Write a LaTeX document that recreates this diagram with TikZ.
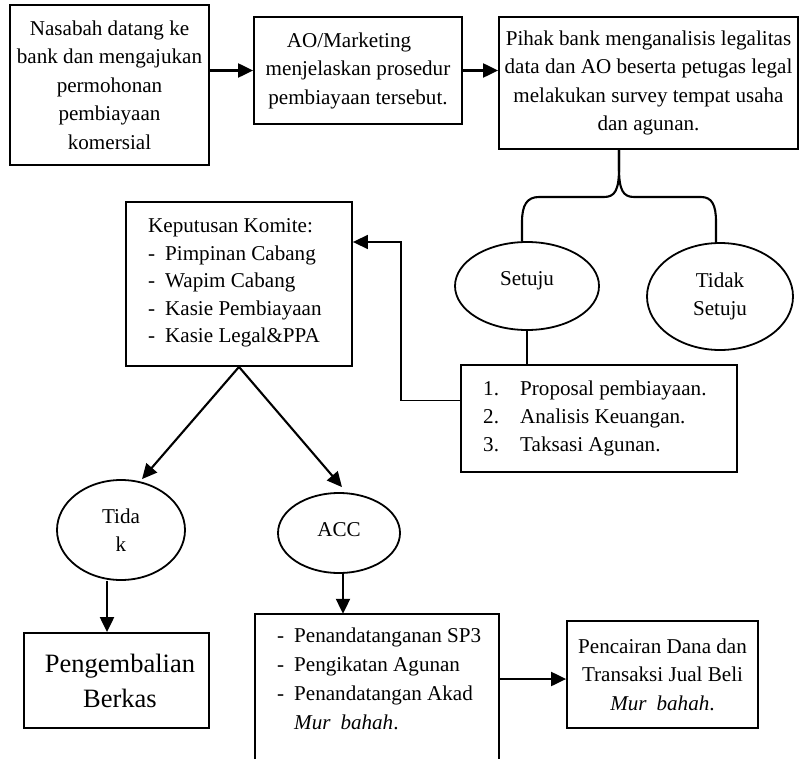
\documentclass[tikz,border=0pt]{standalone}
\usepackage{fontspec}
\setmainfont{Liberation Serif}
\usetikzlibrary{arrows.meta,shapes.geometric,calc}
\newcommand\mainfs{\fontsize{21.1pt}{28.5pt}\selectfont}
\newcommand\bigfs{\fontsize{26.5pt}{35pt}\selectfont}
\newcommand\murb{\textit{Mur\hspace{10pt}bahah}.}
\begin{document}
\begin{tikzpicture}[x=1pt,y=-1pt,
 box/.style={draw, line width=1.8pt, rectangle, inner sep=0pt, align=center, font=\mainfs},
 ell/.style={draw, line width=1.8pt, ellipse, inner sep=0pt, align=center, font=\mainfs},
 txt/.style={anchor=base west, inner sep=0pt, font=\mainfs},
 ln/.style={line width=2.1pt},
 arr/.style={line width=2.1pt, -{Triangle[length=15pt,width=14pt]}}]
\useasboundingbox (0,0) rectangle (799,759);

% boxes
\node[box, minimum width=199pt, minimum height=160pt] (b1) at (109.5,85) {Nasabah datang ke\\bank dan mengajukan\\permohonan\\pembiayaan\\komersial};
\node[box, minimum width=208pt, minimum height=107pt] (b2) at (358,70.5) {AO/Marketing\hspace*{18pt}\\menjelaskan prosedur\\pembiayaan tersebut.};
\node[box, minimum width=299pt, minimum height=132pt] (b3) at (648.5,83) {Pihak bank menganalisis legalitas\\data dan AO beserta petugas legal\\melakukan survey tempat usaha\\dan agunan.};

\node[box, minimum width=226pt, minimum height=164pt] (kep) at (239,284) {};
\node[txt] (k0) at (148,232) {Keputusan Komite:};
\node[txt] (k1) at (148,260) {\makebox[17pt][l]{-}Pimpinan Cabang};
\node[txt] (k2) at (148,287) {\makebox[17pt][l]{-}Wapim Cabang};
\node[txt] (k3) at (148,315) {\makebox[17pt][l]{-}Kasie Pembiayaan};
\node[txt] (k4) at (148,342) {\makebox[17pt][l]{-}Kasie Legal\&PPA};

\node[ell, minimum width=144pt, minimum height=88pt] (setuju) at (527,286) {};
\node[txt, anchor=base] (setujut) at (527,285) {Setuju};
\node[ell, minimum width=146pt, minimum height=107pt] (tdk) at (720,296.5) {Tidak\\Setuju};

\node[box, minimum width=276pt, minimum height=107pt] (list) at (599,418.5) {};
\node[txt] (l1) at (483,395) {\makebox[37pt][l]{1.}Proposal pembiayaan.};
\node[txt] (l2) at (483,423) {\makebox[37pt][l]{2.}Analisis Keuangan.};
\node[txt] (l3) at (483,451) {\makebox[37pt][l]{3.}Taksasi Agunan.};

\node[ell, minimum width=128pt, minimum height=100pt] (tidaL) at (121,530) {Tida\\k};
\node[ell, minimum width=122pt, minimum height=80pt] (acc) at (339,533) {};
\node[txt, anchor=base] (acct) at (339,536) {ACC};

\node[box, minimum width=185pt, minimum height=95pt, font=\bigfs] (peng) at (116.5,680.5) {\hspace*{7pt}Pengembalian\\\hspace*{7pt}Berkas};

\node[minimum width=244pt, minimum height=145pt, inner sep=0pt] (sign) at (377,686.5) {};
\draw[line width=1.8pt] (sign.south west) -- (sign.north west) -- (sign.north east) -- (sign.south east);
\node[txt] (s1) at (277,642) {\makebox[17pt][l]{-}Penandatanganan SP3};
\node[txt] (s2) at (277,671) {\makebox[17pt][l]{-}Pengikatan Agunan};
\node[txt] (s3) at (277,700) {\makebox[17pt][l]{-}Penandatangan Akad};
\node[txt] (s4) at (294,729) {\murb};

\node[box, minimum width=191pt, minimum height=107pt] (pen) at (662.5,674.5) {Pencairan Dana dan\\Transaksi Jual Beli\\\murb};

% connectors
\draw[arr] (b1.east |- b2.west) -- (b2.west);
\draw[arr] (b2.east) -- (b2.east -| b3.west);

\coordinate (bk) at (619,149);
\draw[ln] (bk) -- (619,168) .. controls (619,190) and (615,197) .. (604,197) -- (539,197) .. controls (527,197) and (522,205) .. (522,222) -- ($(setuju.north)+(-5,0)$);
\draw[ln] (bk) -- (619,168) .. controls (619,190) and (623,197) .. (634,197) -- (701,197) .. controls (712,197) and (716,205) .. (716,222) -- ($(tdk.north)+(-4,0)$);

\draw[ln] (setuju.south) -- (setuju.south |- list.north);

\coordinate (fb) at (401,242);
\draw[arr, line width=1.5pt] ($(list.west)+(0,-18)$) -| (fb) -- (fb -| kep.east);

\draw[arr] (kep.south) -- ($(tidaL.north)+(21,0)$);
\draw[arr] (kep.south) -- ($(acc.north)+(3,-5)$);

\draw[arr] ($(tidaL.south)+(-14,0)$) -- ($(peng.north)+(-9.5,0)$);
\draw[arr] ($(acc.south)+(4,0)$) -- ($(acc.south |- sign.north)+(4,0)$);

\coordinate (pj) at ($(pen.west)+(0,4.5)$);
\draw[arr] (pj -| sign.east) -- (pj);
\end{tikzpicture}
\end{document}
